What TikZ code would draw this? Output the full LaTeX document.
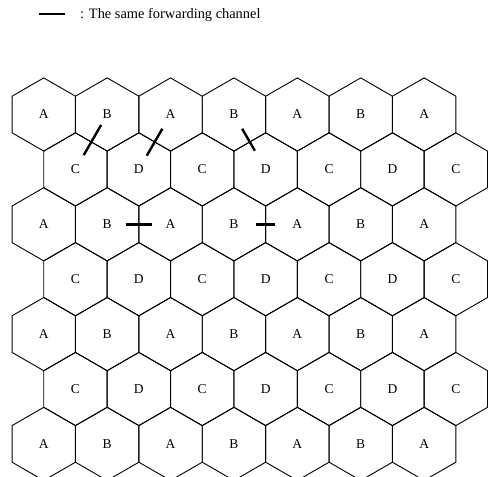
\documentclass[tikz,border=0pt]{standalone}
\usepackage{fontspec}
\setmainfont{Liberation Serif}
\usetikzlibrary{shapes.geometric,calc}

\tikzset{
  cell/.style={draw, regular polygon, regular polygon sides=6, shape border rotate=30,
    minimum size=73.2pt, inner sep=0pt, line width=0.9pt, font=\fontsize{13.5}{15}\selectfont},
  fwd/.style={line width=2.4pt}
}

\begin{document}
\begin{tikzpicture}[x=1pt, y=-1pt]
  \useasboundingbox (0,0) rectangle (488,477);
  \clip (0,0) rectangle (488,477);

  % Legend (top)
  \coordinate (leg1) at (39,14);
  \coordinate (leg2) at (65,14);
  \draw[fwd, line width=2.8pt] (leg1) -- (leg2);
  \node[anchor=west, inner sep=0pt, font=\fontsize{14.4}{16}\selectfont] (legtxt) at (80,14.5) {: The same forwarding channel};

  % Cells: A/B rows and C/D rows
  \foreach \r in {0,...,6} {
    \foreach \c in {0,...,6} {
      \pgfmathsetmacro\hx{43.75+63.4*\c+mod(\r,2)*31.7}
      \pgfmathsetmacro\hy{114.5+54.9*\r}
      \pgfmathtruncatemacro\k{mod(\r,2)*2+mod(\c,2)}
      \node[cell] (h\r\c) at (\hx,\hy) {\ifcase\k A\or B\or C\or D\fi};
    }
  }

  % Same forwarding channel marks
  \draw[fwd] ($(h01)!0.19!(h10)$) -- ($(h01)!0.74!(h10)$);
  \draw[fwd] ($(h02)!0.26!(h11)$) -- ($(h02)!0.75!(h11)$);
  \draw[fwd] ($(h03)!0.26!(h13)$) -- ($(h03)!0.66!(h13)$);
  \draw[fwd] ($(h21)!0.29!(h22)$) -- ($(h21)!0.71!(h22)$);
  \draw[fwd] ($(h23)!0.35!(h24)$) -- ($(h23)!0.65!(h24)$);
\end{tikzpicture}
\end{document}
